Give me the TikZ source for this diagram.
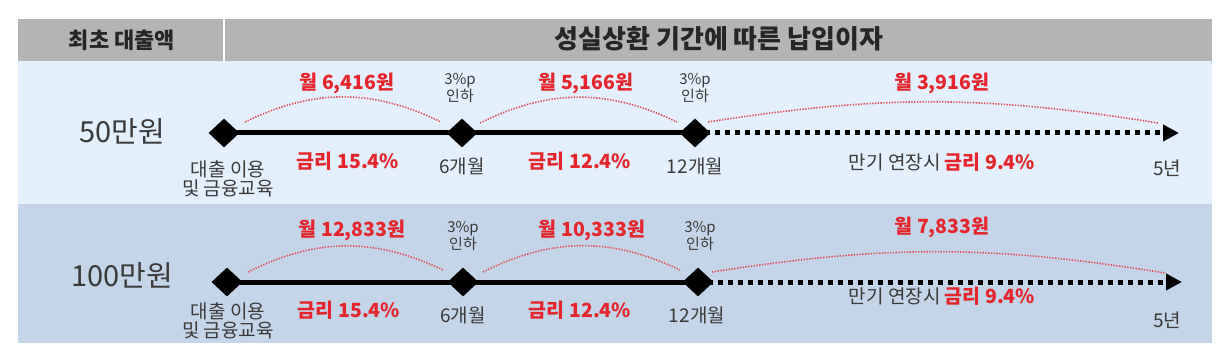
\documentclass[tikz,border=0pt]{standalone}
\usepackage{fontspec}
\setmainfont{Noto Sans CJK KR}
\usetikzlibrary{shapes.geometric,arrows.meta}
\definecolor{hdrgray}{HTML}{B4B4B4}
\definecolor{rowa}{HTML}{E3EFFB}
\definecolor{rowb}{HTML}{C4D5E9}
\definecolor{redtx}{HTML}{E5252B}
\definecolor{arcred}{HTML}{E0505A}
\definecolor{graytx}{HTML}{3A3A3A}
\tikzset{
  hdrtext/.style={text=black!85, font=\bfseries\fontsize{22}{24}\selectfont, inner sep=0pt},
  titletext/.style={text=black!85, font=\bfseries\fontsize{26}{28}\selectfont, inner sep=0pt},
  amount/.style={text=graytx, font=\fontsize{29}{30}\selectfont, inner sep=0pt},
  redlabel/.style={text=redtx, font=\bfseries\fontsize{19.5}{21}\selectfont, inner sep=0pt},
  graylabel/.style={text=graytx, font=\fontsize{19}{19}\selectfont, inner sep=0pt, align=center},
  smalllabel/.style={text=graytx, font=\fontsize{15}{14.5}\selectfont, inner sep=0pt, align=center},
  mark diamond/.style={diamond, fill=black, minimum width=31pt, minimum height=29pt, inner sep=0pt},
  solidline/.style={line width=5pt, black},
  dotline/.style={line width=5pt, black, dash pattern=on 5pt off 5pt, -{Triangle[length=16pt,width=16pt]}},
  arcline/.style={arcred, line width=1.6pt, dash pattern=on 1.4pt off 1.4pt},
}
\begin{document}
\begin{tikzpicture}[x=1pt,y=-1pt]
\useasboundingbox (0,0) rectangle (1226,358);
\fill[white] (0,0) rectangle (1226,358);
% panels
\fill[hdrgray] (18,19) rectangle (1212,61);
\fill[rowa] (18,61) rectangle (1212,204);
\fill[rowb] (18,204) rectangle (1212,343);
\draw[white, line width=1.5pt] (224,19) -- (224,61);
\node[hdrtext] (h1) at (122,40) {최초 대출액};
\node[titletext] (h2) at (719,39) {성실상환 기간에 따른 납입이자};

% ---------- row 1 ----------
\node[amount] (amt1) at (122,131) {50만원};
\coordinate (e1) at (1179,133);
\draw[dotline] (695,133) -- (e1);
\draw[solidline] (224,133) -- (695,133);
\node[mark diamond] (r1d1) at (224,133) {};
\node[mark diamond] (r1d2) at (462,133) {};
\node[mark diamond] (r1d3) at (695,133) {};

\coordinate (r1a1s) at (245,122); \coordinate (r1a1e) at (441,122);
\coordinate (r1a2s) at (480,123); \coordinate (r1a2e) at (677,122);
\coordinate (r1a3s) at (708,122); \coordinate (r1a3e) at (1158,123);
\draw[arcline] (r1a1s) to[bend left=26] (r1a1e);
\draw[arcline] (r1a2s) to[bend left=26] (r1a2e);
\draw[arcline] (r1a3s) to[bend left=9] (r1a3e);

\node[redlabel] (r1m1) at (347,83) {월 6,416원};
\node[redlabel] (r1m2) at (586,83) {월 5,166원};
\node[redlabel] (r1m3) at (942,83) {월 3,916원};
\node[smalllabel] (r1c1) at (460,88) {3\%p\\인하};
\node[smalllabel] (r1c2) at (695,88) {3\%p\\인하};

\node[graylabel] (r1s) at (228,179) {대출 이용\\및 금융교육};
\node[redlabel] (r1r1) at (348,161) {금리 15.4\%};
\node[graylabel] (r1t1) at (462,166) {6개월};
\node[redlabel] (r1r2) at (580,161) {금리 12.4\%};
\node[graylabel] (r1t2) at (695,166) {12개월};
\node[graylabel] (r1r3) at (942,162) {만기 연장시 {\color{redtx}\bfseries\fontsize{19.5}{19}\selectfont 금리 9.4\%}};
\node[graylabel] (r1t3) at (1167,168) {5년};

% ---------- row 2 ----------
\node[amount] (amt2) at (122,275) {100만원};
\coordinate (e2) at (1182,282);
\draw[dotline] (698,282) -- (e2);
\draw[solidline] (227,282) -- (698,282);
\node[mark diamond] (r2d1) at (227,282) {};
\node[mark diamond] (r2d2) at (463,282) {};
\node[mark diamond] (r2d3) at (698,282) {};

\coordinate (r2a1s) at (248,272); \coordinate (r2a1e) at (443,270);
\coordinate (r2a2s) at (483,272); \coordinate (r2a2e) at (680,270);
\coordinate (r2a3s) at (712,272); \coordinate (r2a3e) at (1165,273);
\draw[arcline] (r2a1s) to[bend left=26] (r2a1e);
\draw[arcline] (r2a2s) to[bend left=26] (r2a2e);
\draw[arcline] (r2a3s) to[bend left=9] (r2a3e);

\node[redlabel] (r2m1) at (352,230) {월 12,833원};
\node[redlabel] (r2m2) at (592,230) {월 10,333원};
\node[redlabel] (r2m3) at (942,227) {월 7,833원};
\node[smalllabel] (r2c1) at (463,236) {3\%p\\인하};
\node[smalllabel] (r2c2) at (700,236) {3\%p\\인하};

\node[graylabel] (r2s) at (228,321) {대출 이용\\및 금융교육};
\node[redlabel] (r2r1) at (349,310) {금리 15.4\%};
\node[graylabel] (r2t1) at (463,315) {6개월};
\node[redlabel] (r2r2) at (580,310) {금리 12.4\%};
\node[graylabel] (r2t2) at (697,315) {12개월};
\node[graylabel] (r2r3) at (942,296) {만기 연장시 {\color{redtx}\bfseries\fontsize{19.5}{19}\selectfont 금리 9.4\%}};
\node[graylabel] (r2t3) at (1167,320) {5년};
\end{tikzpicture}
\end{document}
